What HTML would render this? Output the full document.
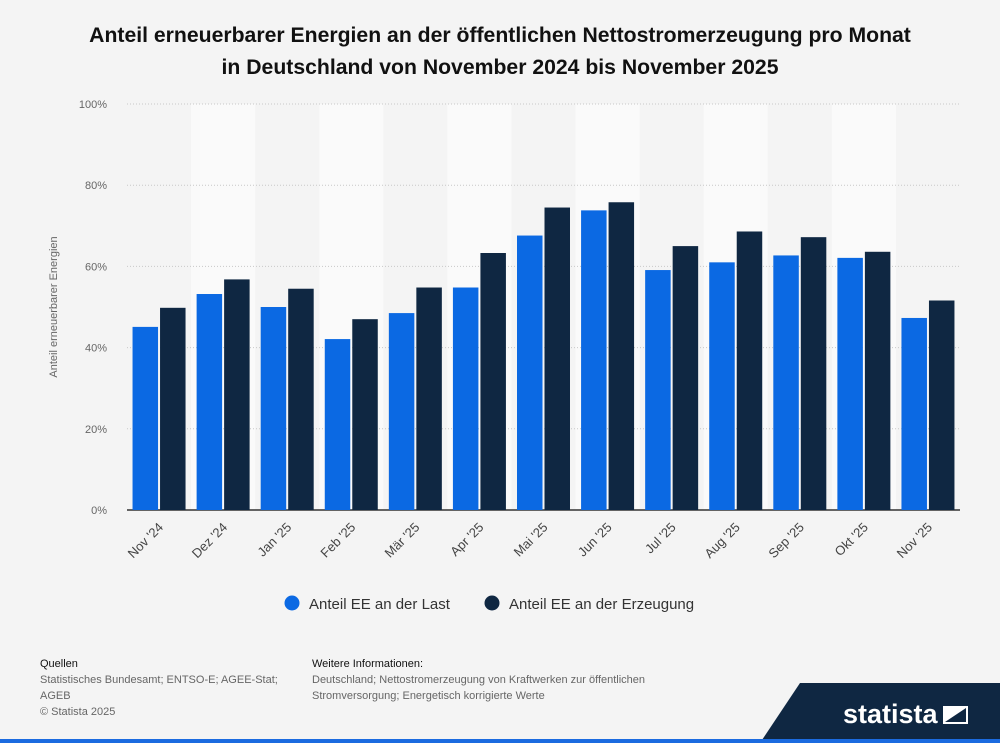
<!DOCTYPE html>
<html><head><meta charset="utf-8">
<style>
body{margin:0;background:#f4f4f4;font-family:"Liberation Sans",sans-serif;}
#wrap{position:relative;width:1000px;height:743px;overflow:hidden;background:#f4f4f4;}
h1{position:absolute;top:20px;left:0;width:1000px;text-align:center;font-size:21.2px;line-height:32px;margin:0;color:#111;font-weight:bold;}
.ft{position:absolute;font-size:11px;color:#666;line-height:16px;}
.ft b{color:#111;font-weight:normal;}
</style></head><body>
<div id="wrap">
<h1>Anteil erneuerbarer Energien an der öffentlichen Nettostromerzeugung pro Monat<br>in Deutschland von November 2024 bis November 2025</h1>
<svg id="chart" width="1000" height="640" style="position:absolute;left:0;top:0"></svg>
<div class="ft" style="left:40px;top:656px"><b>Quellen</b><br>Statistisches Bundesamt; ENTSO-E; AGEE-Stat;<br>AGEB<br>© Statista 2025</div>
<div class="ft" style="left:312px;top:656px"><b>Weitere Informationen:</b><br>Deutschland; Nettostromerzeugung von Kraftwerken zur öffentlichen<br>Stromversorgung; Energetisch korrigierte Werte</div>
<svg width="1000" height="743" style="position:absolute;left:0;top:0;pointer-events:none">
<polygon points="800,683 1000,683 1000,743 760,743" fill="#0f2742"/>
<rect x="0" y="739" width="1000" height="4" fill="#1b6be0"/>
<text x="843" y="723" fill="#fff" font-size="27" font-weight="bold" font-family="Liberation Sans,sans-serif">statista</text>
<polygon points="943,706 968,706 968,724 943,724" fill="#fff"/>
<polygon points="945,722 966,708 966,722" fill="#0f2742"/>
</svg>
</div>
<script>
const categories=["Nov '24","Dez '24","Jan '25","Feb '25","Mär '25","Apr '25","Mai '25","Jun '25","Jul '25","Aug '25","Sep '25","Okt '25","Nov '25"];
const lastValues=[45.1,53.2,50.0,42.1,48.5,54.8,67.6,73.8,59.1,61.0,62.7,62.1,47.3];
const genValues=[49.8,56.8,54.5,47.0,54.8,63.3,74.5,75.8,65.0,68.6,67.2,63.6,51.6];
const yTicks=[0,20,40,60,80,100];
const seriesNames=["Anteil EE an der Last","Anteil EE an der Erzeugung"];
const NS="http://www.w3.org/2000/svg";
const svg=document.getElementById('chart');
const x0=127,x1=960,yTop=104,yBot=510;
const gw=(x1-x0)/categories.length;
const y=v=>yBot-(v/100)*(yBot-yTop);
const xg=i=>x0+i*gw;
function mk(t,a){const e=document.createElementNS(NS,t);for(const k in a)e.setAttribute(k,a[k]);svg.appendChild(e);return e;}
categories.forEach((c,i)=>{if(i%2==1){const r=mk('rect',{x:xg(i),y:yTop,width:gw,height:yBot-yTop,fill:'#fafafa'});

}});
yTicks.forEach(t=>{const l=mk('line',{x1:x0,x2:x1,y1:y(t),y2:y(t),stroke:t==0?'#333':'#c8c8c8','stroke-width':t==0?1.5:1,'stroke-dasharray':t==0?'':'1,2'});


const tx=mk('text',{x:107,y:y(t)+4,'text-anchor':'end','font-size':11,fill:'#666'});tx.textContent=t+'%';

});
const yt=mk('text',{transform:'translate(57,307) rotate(-90)','text-anchor':'middle','font-size':11,fill:'#666'});yt.textContent='Anteil erneuerbarer Energien';


const bw=25.5,gap=2;
categories.forEach((c,i)=>{const cx=xg(i)+gw/2;
const b1=mk('rect',{x:cx-gap/2-bw,y:y(lastValues[i]),width:bw,height:yBot-y(lastValues[i]),fill:'#0b69e3'});


const b2=mk('rect',{x:cx+gap/2,y:y(genValues[i]),width:bw,height:yBot-y(genValues[i]),fill:'#0f2742'});


const t=mk('text',{transform:`translate(${cx+5},${yBot+18}) rotate(-45)`,'text-anchor':'end','font-size':13,fill:'#444'});t.textContent=c;

});
[[292,'#0b69e3',seriesNames[0]],[492,'#0f2742',seriesNames[1]]].forEach((L,i)=>{
const c=mk('circle',{cx:L[0],cy:603,r:7.5,fill:L[1]});


const t=mk('text',{x:L[0]+17,y:609,'font-size':15,fill:'#333'});t.textContent=L[2];

});
</script>
</body></html>
